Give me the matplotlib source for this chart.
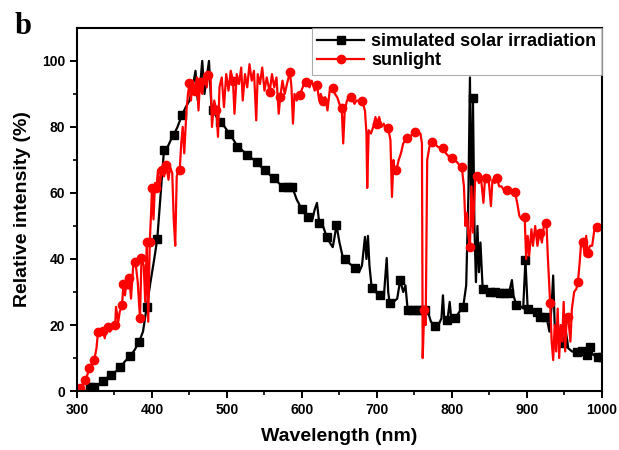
import numpy as np
import matplotlib
matplotlib.use('Agg')
import matplotlib.pyplot as plt

plt.rcParams['font.family'] = ['Liberation Sans', 'DejaVu Sans']

# simulated solar irradiation (black, squares)
sim_wl = [313, 317, 323, 329, 335, 340, 346, 352, 358, 364, 371, 377, 383, 388,
          393, 398, 403, 407, 411, 416, 421, 426, 429, 434, 440, 445, 450, 455,
          458, 461, 464, 467, 470, 473, 476, 479, 482, 486, 491, 497, 503, 509,
          514, 520, 527, 533, 540, 545, 551, 557, 563, 569, 575, 581, 587, 593,
          600, 604, 608, 614, 617, 620, 623, 628, 633, 637, 641, 643, 646, 650,
          654, 657, 664, 671, 676, 680, 684, 686, 688, 690, 693, 698, 704, 709,
          713, 715, 717, 722, 727, 731, 735, 738, 741, 747, 753, 758, 764, 768,
          772, 777, 782, 786, 788, 790, 794, 797, 799, 804, 810, 815, 819, 822,
          824, 826, 828, 830, 832, 834, 836, 838, 841, 845, 851, 857, 864, 870,
          876, 880, 882, 886, 890, 895, 898, 901, 906, 913, 917, 922, 926, 930,
          933, 935, 937, 941, 945, 948, 952, 955, 960, 967, 973, 980, 984, 988,
          995, 1000]
sim_val = [0.3, 1.2, 1.2, 2, 3, 4, 5, 6, 7.3, 9, 10.6, 12.5, 15, 18,
           25.5, 33, 40, 46, 58, 73, 74, 76.5, 77.6, 80, 83.6, 86, 88, 93,
           97, 88, 92, 100, 90, 95, 100, 87, 85, 83, 81.5, 80, 78, 76,
           74, 73, 71.5, 70.5, 69.4, 68, 67, 65.5, 64.5, 63, 61.8, 61.8, 61.8, 58,
           55, 54, 52.7, 52, 55, 57, 51, 50, 46.7, 45, 43.6, 46, 50.3, 45,
           41, 40, 38.5, 37.3, 36, 38, 46.7, 40, 47, 38, 31.2, 30, 29, 28,
           40.3, 30, 26.6, 27, 28, 33.6, 30, 32, 24.5, 24.5, 24.5, 24.5, 24.5, 24,
           21, 19.7, 20, 22, 29, 21, 21.5, 27, 22, 22, 24, 25.5, 32, 60,
           95, 50, 88.8, 50, 33, 50, 36, 45, 31, 30, 30, 30, 29.7, 29.7,
           29.7, 33.6, 29, 26, 26, 25, 39.7, 25, 25, 24, 22.5, 22, 22.5, 18,
           26, 35, 20, 18, 15, 14.5, 18, 13, 12, 11.8, 12, 10.9, 13.3, 11,
           10.3, 10.3]
# wavelengths where the square symbols sit
sim_mark_wl = [317, 323, 335, 346, 358, 371, 383, 393, 407, 416, 429, 440,
               482, 491, 503, 514, 527, 540, 551, 563, 575, 581, 587, 600,
               608, 623, 633, 646, 657, 671, 693, 704, 717, 731, 741, 747,
               753, 758, 764, 777, 794, 804, 815, 828, 841, 851, 857, 864,
               870, 876, 886, 898, 901, 913, 917, 926, 948, 967, 973, 980,
               984, 995, 1000]

# sunlight (red, circles)
sun_wl = [302, 304, 308, 311, 314, 316, 319, 323, 326, 328, 331, 335, 337, 339,
          341, 344, 347, 351, 352, 355, 357, 360, 362, 364, 366, 368, 370, 372,
          375, 378, 381, 384, 386, 389, 391, 393, 395, 397, 399, 400, 402, 404,
          406, 408, 410, 413, 416, 419, 422, 424, 427, 429, 431, 433, 435, 437,
          439, 441, 443, 446, 448, 450, 452, 454, 457, 460, 462, 464, 467, 470,
          473, 475, 478, 480, 483, 486, 488, 490, 493, 496, 499, 502, 505, 508,
          510, 513, 516, 519, 521, 524, 527, 530, 533, 536, 539, 541, 544, 547,
          550, 553, 557, 560, 563, 566, 569, 571, 574, 577, 580, 584, 586, 588,
          590, 593, 597, 601, 604, 606, 610, 613, 617, 620, 623, 625, 628, 631,
          634, 637, 641, 644, 647, 650, 653, 655, 657, 660, 663, 666, 670, 673,
          677, 680, 684, 686, 687, 689, 692, 695, 698, 700, 703, 706, 709, 712,
          715, 718, 720, 722, 724, 726, 729, 732, 735, 738, 740, 744, 748, 751,
          755, 758, 760, 761, 763, 765, 767, 770, 773, 777, 781, 785, 788, 792,
          796, 800, 804, 808, 811, 813, 816, 818, 820, 822, 824, 826, 828, 831,
          833, 836, 839, 842, 844, 846, 849, 852, 854, 857, 860, 863, 866, 869,
          873, 877, 880, 884, 887, 890, 893, 897, 899, 901, 903, 906, 908, 911,
          914, 917, 920, 923, 926, 928, 931, 933, 935, 937, 939, 941, 943, 945,
          947, 949, 951, 953, 955, 958, 960, 963, 966, 968, 970, 972, 975, 977,
          979, 981, 984, 987, 990, 993, 996, 1000]
sun_val = [0, 0.9, 2, 3.3, 5, 7, 8, 9.4, 13, 17.9, 18, 18.2, 16, 19,
           19.4, 18, 20, 20, 25.5, 21, 24, 26, 32.4, 29, 33, 31, 34.2, 28,
           38, 39, 33, 22, 40.3, 38, 27, 45, 21, 45, 55, 61.5, 52, 63,
           61.5, 67, 62, 67, 65, 68.5, 64, 68, 66, 52, 44, 65, 67, 67,
           75, 80, 72, 85, 90, 93.3, 88, 94, 91, 95, 85, 93.6, 90, 96,
           92, 95.8, 96, 80, 88, 85, 77, 92, 95, 86, 96, 91, 97, 94,
           84, 96, 93, 98, 88, 96, 92, 99, 94, 97, 82, 96, 93, 98,
           91, 95, 90.6, 96, 92, 95, 84, 89, 94, 90, 93, 96.7, 92, 81,
           90, 88, 89.7, 92, 94, 93.6, 92, 94, 91, 92.7, 88, 90, 88, 89,
           85, 91, 91.8, 90, 89, 87, 85.7, 75, 85, 88, 89, 89, 87, 88,
           88, 88, 85, 78, 61.5, 79, 78, 80, 83, 81, 83, 80, 81, 79,
           79.6, 76, 58.8, 70, 66, 67, 70, 72, 75, 76, 76.6, 77, 78, 78.5,
           78, 78, 75, 10, 24.5, 20, 70, 74, 75.5, 75, 74, 73.6, 73.6, 72,
           71, 70.6, 70, 69, 68, 68, 62, 50, 54, 47, 43.6, 62, 48, 64,
           65, 63, 64, 57, 64, 64.5, 64, 56, 64, 63, 64.5, 62, 62, 61,
           61, 60, 60.5, 60.3, 57, 53, 52, 52.7, 40, 47, 41, 49, 44, 50,
           44, 48, 45, 51, 50.9, 40, 26.6, 15, 9.4, 20, 12, 25, 10, 20,
           15, 27, 12, 22, 22.5, 15, 25, 30, 31, 33, 38, 44, 45, 41,
           47, 41.8, 44, 44, 49, 49.7, 50, 48.8]
# wavelengths where the circle symbols sit
sun_mark_wl = [304, 311, 316, 323, 328, 335, 341, 351, 360, 362, 370, 378,
               384, 386, 393, 397, 400, 406, 413, 419, 437, 450, 457, 464,
               475, 486, 508, 557, 571, 584, 597, 606, 620, 628, 641, 653,
               666, 680, 700, 715, 726, 740, 751, 763, 773, 788, 800, 813,
               824, 833, 846, 860, 873, 884, 897, 917, 926, 931, 955, 968,
               975, 981, 993]

sim_marks = [sim_wl.index(w) for w in sim_mark_wl]
sun_marks = [sun_wl.index(w) for w in sun_mark_wl]

fig = plt.figure(figsize=(6.19, 4.5), dpi=100)
ax = fig.add_axes([0.1244, 0.131, 0.848, 0.807])

ax.plot(sim_wl, sim_val, color='black', linewidth=1.6, marker='s',
        markersize=5.5, markevery=sim_marks, label='simulated solar irradiation')
ax.plot(sun_wl, sun_val, color='red', linewidth=1.6, marker='o',
        markersize=6, markevery=sun_marks, label='sunlight')

ax.set_xlim(300, 1000)
ax.set_ylim(0, 110)
ax.set_xticks([300, 400, 500, 600, 700, 800, 900, 1000])
ax.set_xticks(np.arange(350, 1000, 100), minor=True)
ax.set_yticks([0, 20, 40, 60, 80, 100])
ax.set_yticks([10, 30, 50, 70, 90], minor=True)
ax.tick_params(which='major', direction='out', length=5, width=1.4,
               labelsize=10)
ax.tick_params(which='minor', direction='out', length=3, width=1.2)
for lab in ax.get_xticklabels() + ax.get_yticklabels():
    lab.set_fontweight('bold')
for sp in ax.spines.values():
    sp.set_linewidth(1.5)

ax.set_xlabel('Wavelength (nm)', fontsize=14, fontweight='bold', labelpad=8)
ax.set_ylabel('Relative intensity (%)', fontsize=14, fontweight='bold',
              labelpad=8)

leg = ax.legend(loc='upper right', borderaxespad=0, fancybox=False,
                prop={'weight': 'bold', 'size': 13}, handlelength=2.6,
                labelspacing=0.1, borderpad=0.3, handletextpad=0.4)
leg.get_frame().set_edgecolor('#999999')
leg.get_frame().set_linewidth(0.8)

fig.text(0.024, 0.925, 'b', fontsize=22, fontweight='bold',
         family='Liberation Serif')

fig.savefig('out.png', dpi=100)
